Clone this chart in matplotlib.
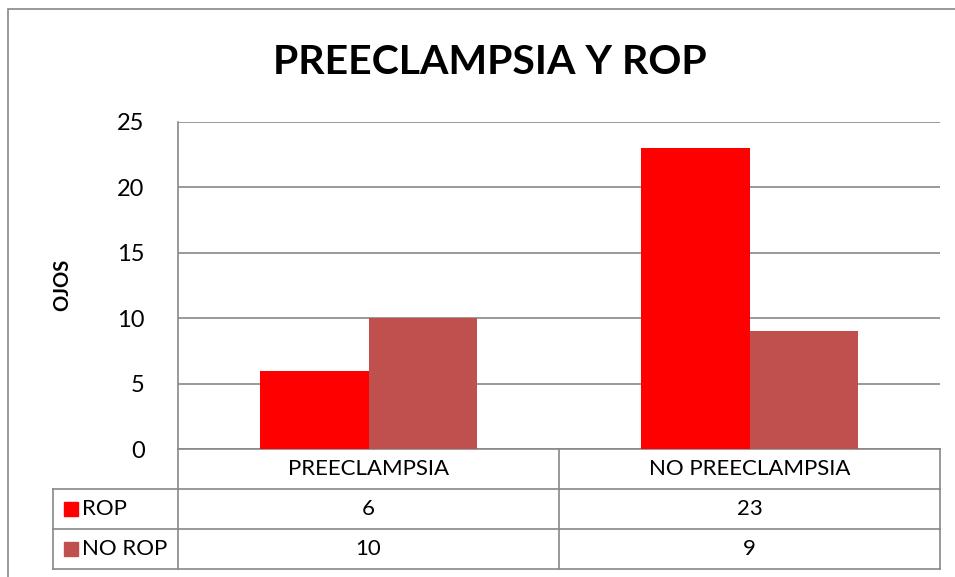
import matplotlib
matplotlib.use('Agg')
import matplotlib.pyplot as plt
from matplotlib.patches import Rectangle
import numpy as np

categories = ['PREECLAMPSIA', 'NO PREECLAMPSIA']
series_names = ['ROP', 'NO ROP']
rop = [6, 23]
no_rop = [10, 9]
colors = ['#FF0000', '#C0504D']
yticks = [0, 5, 10, 15, 20, 25]

plt.rcParams['font.family'] = ['Lato', 'DejaVu Sans']

W, H = 955, 577
fig = plt.figure(figsize=(W / 100, H / 100), dpi=100)

# outer chart frame (cut off at right and bottom like the reference)
fig.patches.append(Rectangle((8 / W, -0.1), 1.1, (H - 9) / H + 0.1, transform=fig.transFigure,
                             fill=False, edgecolor='#888888', lw=1.2))

px_l, px_r, px_t, px_b = 178, 940, 122, 449
ax = fig.add_axes([px_l / W, (H - px_b) / H, (px_r - px_l) / W, (px_b - px_t) / H])

x = np.arange(len(categories))
bw = 0.285
ax.bar(x - bw / 2, rop, bw, color=colors[0], zorder=3)
ax.bar(x + bw / 2, no_rop, bw, color=colors[1], zorder=3)

ax.set_xlim(-0.5, len(categories) - 0.5)
ax.set_ylim(0, 25)
ax.set_yticks(yticks)
ax.set_yticklabels([str(t) for t in yticks], fontsize=17)
ax.tick_params(axis='y', length=0, pad=24)
ax.set_xticks([])
ax.grid(axis='y', color='#888888', lw=1.2, zorder=0)
for s in ['top', 'right', 'bottom']:
    ax.spines[s].set_visible(False)
ax.spines['left'].set_color('#888888')
ax.spines['left'].set_linewidth(1.2)

fig.text(490 / W, 1 - 62 / H, 'PREECLAMPSIA Y ROP', ha='center', va='center',
         fontsize=29.5, fontweight='bold')
fig.text(62 / W, 1 - 285 / H, 'OJOS', ha='center', va='center', rotation=90,
         fontsize=14.5, fontweight='bold')

# data table under the axis
hpx = px_b - px_t
def ay(py):
    return (px_b - py) / hpx
rows_y = [449, 489, 529, 569]
left_col = (53 - px_l) / (px_r - px_l)
lc = '#888888'
kw = dict(transform=ax.transAxes, color=lc, lw=1.2, clip_on=False)
# horizontal lines
ax.plot([0, 1], [ay(rows_y[0])] * 2, **kw)
for py in rows_y[1:]:
    ax.plot([left_col, 1], [ay(py)] * 2, **kw)
# vertical lines
ax.plot([0, 0], [ay(449), ay(569)], **kw)
ax.plot([0.5, 0.5], [ay(449), ay(569)], **kw)
ax.plot([1, 1], [ay(449), ay(569)], **kw)
ax.plot([left_col, left_col], [ay(489), ay(569)], **kw)

fs = 16
for i, c in enumerate(categories):
    ax.text(0.25 + 0.5 * i, ay(469), c, transform=ax.transAxes, ha='center', va='center', fontsize=fs)
for r, (name, vals, col) in enumerate(zip(series_names, [rop, no_rop], colors)):
    yc = ay(509 + 40 * r)
    ax.add_patch(Rectangle((left_col + 11 / 762, yc - 7 / hpx), 14 / 762, 14 / hpx,
                           transform=ax.transAxes, color=col, clip_on=False))
    ax.text(left_col + 29 / 762, yc, name, transform=ax.transAxes, ha='left', va='center', fontsize=fs)
    for i, v in enumerate(vals):
        ax.text(0.25 + 0.5 * i, yc, str(v), transform=ax.transAxes, ha='center', va='center', fontsize=fs)

fig.savefig('out.png', dpi=100)
